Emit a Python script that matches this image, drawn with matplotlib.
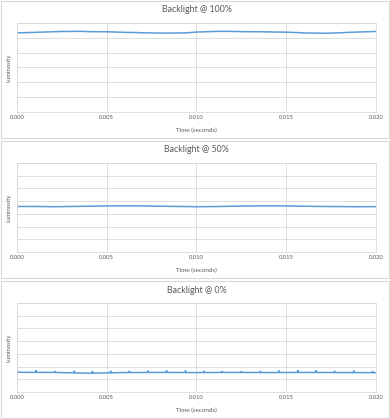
import numpy as np
import matplotlib.pyplot as plt
from matplotlib.patches import Rectangle

plt.rcParams['font.family'] = ['Lato', 'DejaVu Sans']

# --- data ---
titles = ['Backlight @ 100%', 'Backlight @ 50%', 'Backlight @ 0%']
x_ticks = [0.000, 0.005, 0.010, 0.015, 0.020]
x_tick_labels = ['0.000', '0.005', '0.010', '0.015', '0.020']

# 100% : sampled every 0.5 ms, y axis 0..6
t_full = [0.0000, 0.0005, 0.0010, 0.0015, 0.0020, 0.0025, 0.0030, 0.0035, 0.0040,
          0.0045, 0.0050, 0.0055, 0.0060, 0.0065, 0.0070, 0.0075, 0.0080, 0.0085,
          0.0090, 0.0095, 0.0100, 0.0105, 0.0110, 0.0115, 0.0120, 0.0125, 0.0130,
          0.0135, 0.0140, 0.0145, 0.0150, 0.0155, 0.0160, 0.0165, 0.0170, 0.0175,
          0.0180, 0.0185, 0.0190, 0.0195, 0.0200]
lum_full = [5.34, 5.35, 5.37, 5.39, 5.41, 5.43, 5.43, 5.44, 5.42, 5.41, 5.41, 5.39,
            5.37, 5.36, 5.34, 5.33, 5.32, 5.32, 5.33, 5.34, 5.39, 5.41, 5.43, 5.44,
            5.43, 5.42, 5.41, 5.41, 5.40, 5.39, 5.38, 5.36, 5.33, 5.32, 5.31, 5.32,
            5.34, 5.37, 5.39, 5.41, 5.43]

# 50% : sampled every 1 ms, y axis 0..7
t_half = [0.000, 0.001, 0.002, 0.003, 0.004, 0.005, 0.006, 0.007, 0.008, 0.009, 0.010,
          0.011, 0.012, 0.013, 0.014, 0.015, 0.016, 0.017, 0.018, 0.019, 0.020]
lum_half = [3.58, 3.58, 3.56, 3.58, 3.60, 3.62, 3.63, 3.62, 3.60, 3.58, 3.56,
            3.57, 3.60, 3.62, 3.63, 3.62, 3.60, 3.58, 3.57, 3.56, 3.57]

# 0% : flat baseline with short periodic spikes, y axis 0..7
t_off = [0.000, 0.002, 0.004, 0.006, 0.008, 0.010, 0.012, 0.014, 0.016, 0.018, 0.020]
lum_off = [1.55, 1.54, 1.48, 1.53, 1.54, 1.53, 1.54, 1.53, 1.54, 1.53, 1.52]
spike_t = [0.00002, 0.00106, 0.00213, 0.00319, 0.00420, 0.00522, 0.00626, 0.00731,
           0.00833, 0.00939, 0.01041, 0.01144, 0.01250, 0.01356, 0.01459, 0.01565,
           0.01667, 0.01769, 0.01876, 0.01981]
spike_top = [1.70, 1.71, 1.64, 1.67, 1.65, 1.67, 1.67, 1.68, 1.70, 1.69, 1.67,
             1.65, 1.64, 1.67, 1.69, 1.70, 1.71, 1.67, 1.68, 1.64]

y_max = [6, 7, 7]

# --- figure layout (pixels from top) ---
W, H = 390, 419
fig = plt.figure(figsize=(W / 100, H / 100), dpi=100)
fig.patch.set_facecolor('white')

panel_tops = [0, 140, 280]
panel_h = 138
ax_left, ax_right = 17, 376
ax_top_off, ax_bot_off = 23, 112

line_col = '#5b9bd5'
grid_col = '#d9d9d9'
text_col = '#595959'

series = [(t_full, lum_full), (t_half, lum_half), (t_off, lum_off)]

for i, top in enumerate(panel_tops):
    # panel frame
    fig.patches.append(Rectangle((1 / W, 1 - (top + panel_h) / H), (W - 2) / W, (panel_h - 1) / H,
                                 transform=fig.transFigure, fill=False,
                                 edgecolor=grid_col, linewidth=0.8))
    ax = fig.add_axes([ax_left / W, 1 - (top + ax_bot_off) / H,
                       (ax_right - ax_left) / W, (ax_bot_off - ax_top_off) / H])
    t, v = series[i]
    if i == 2:
        # merge spike samples into baseline
        base = np.interp(spike_t, t, v)
        tt = list(t) + [s - 0.00003 for s in spike_t] + list(spike_t) + [s + 0.00003 for s in spike_t]
        vv = list(v) + list(base) + list(spike_top) + list(base)
        order = np.argsort(tt)
        t = np.array(tt)[order]
        v = np.array(vv)[order]
    ax.plot(t, v, color=line_col, linewidth=1.1, solid_joinstyle='miter')

    ax.set_xlim(0, 0.02)
    ax.set_ylim(0, y_max[i])
    ax.set_xticks(x_ticks)
    ax.set_xticklabels(x_tick_labels)
    ax.set_yticks(range(y_max[i] + 1))
    ax.set_yticklabels([])
    ax.grid(True, color=grid_col, linewidth=0.6)
    ax.set_axisbelow(True)
    ax.tick_params(axis='both', length=0, labelsize=4.2, colors=text_col, pad=2.5)
    for s in ax.spines.values():
        s.set_color(grid_col)
        s.set_linewidth(0.6)
    ax.set_xlabel('Time (seconds)', fontsize=4.5, color=text_col)
    ax.xaxis.set_label_coords(0.5, -15.5 / (ax_bot_off - ax_top_off))
    ax.set_ylabel('Luminosity', fontsize=4.2, color=text_col)
    ax.yaxis.set_label_coords(-5.0 / (ax_right - ax_left), 0.5)
    fig.text(0.5 * (ax_left + ax_right) / W, 1 - (top + 10) / H, titles[i],
             ha='center', va='center', fontsize=6.3, color=text_col)

fig.savefig('out.png', dpi=100, facecolor='white')
